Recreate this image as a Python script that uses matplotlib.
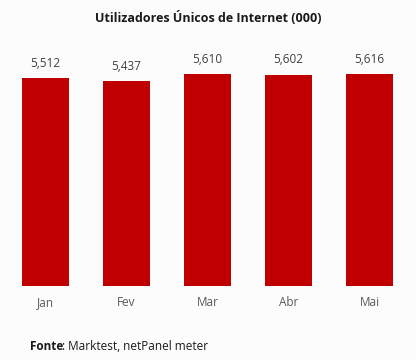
import matplotlib.pyplot as plt
import numpy as np

months = ["Jan", "Fev", "Mar", "Abr", "Mai"]
users = [5512, 5437, 5610, 5602, 5616]
value_labels = ["5,512", "5,437", "5,610", "5,602", "5,616"]

plt.rcParams['font.family'] = ['Open Sans', 'DejaVu Sans']

fig = plt.figure(figsize=(4.16, 3.6), dpi=100, facecolor='#fcfcfc')
ax = fig.add_axes([5/416, 74/360, 405/416, 264/360])
ax.set_facecolor('#fcfcfc')

x = np.arange(len(months))
bars = ax.bar(x, users, width=0.58, color='#c00000')

for xi, v, lab in zip(x, users, value_labels):
    ax.annotate(lab, (xi, v), xytext=(0, 6), textcoords='offset points',
                ha='center', va='bottom', fontsize=8.5, color='#404040')

ax.set_xlim(-0.5, len(months) - 0.5)
ax.set_ylim(0, 7000)
ax.set_xticks(x)
ax.set_xticklabels(months, fontsize=8.5, color='#595959')
ax.tick_params(axis='x', length=0, pad=7)
ax.set_yticks([])
for s in ax.spines.values():
    s.set_visible(False)

fig.text(208/416, 1 - 18/360, "Utilizadores Únicos de Internet (000)", ha='center', va='center',
         fontsize=9, fontweight='bold', color='#1a1a1a')
fig.text(30/416, 1 - 347/360, "Fonte", ha='left', va='center', fontsize=8.5,
         fontweight='bold', color='#1a1a1a')
fig.text(62/416, 1 - 347/360, ": Marktest, netPanel meter", ha='left', va='center',
         fontsize=8.5, color='#1a1a1a')

fig.savefig('out.png', dpi=100, facecolor=fig.get_facecolor())
